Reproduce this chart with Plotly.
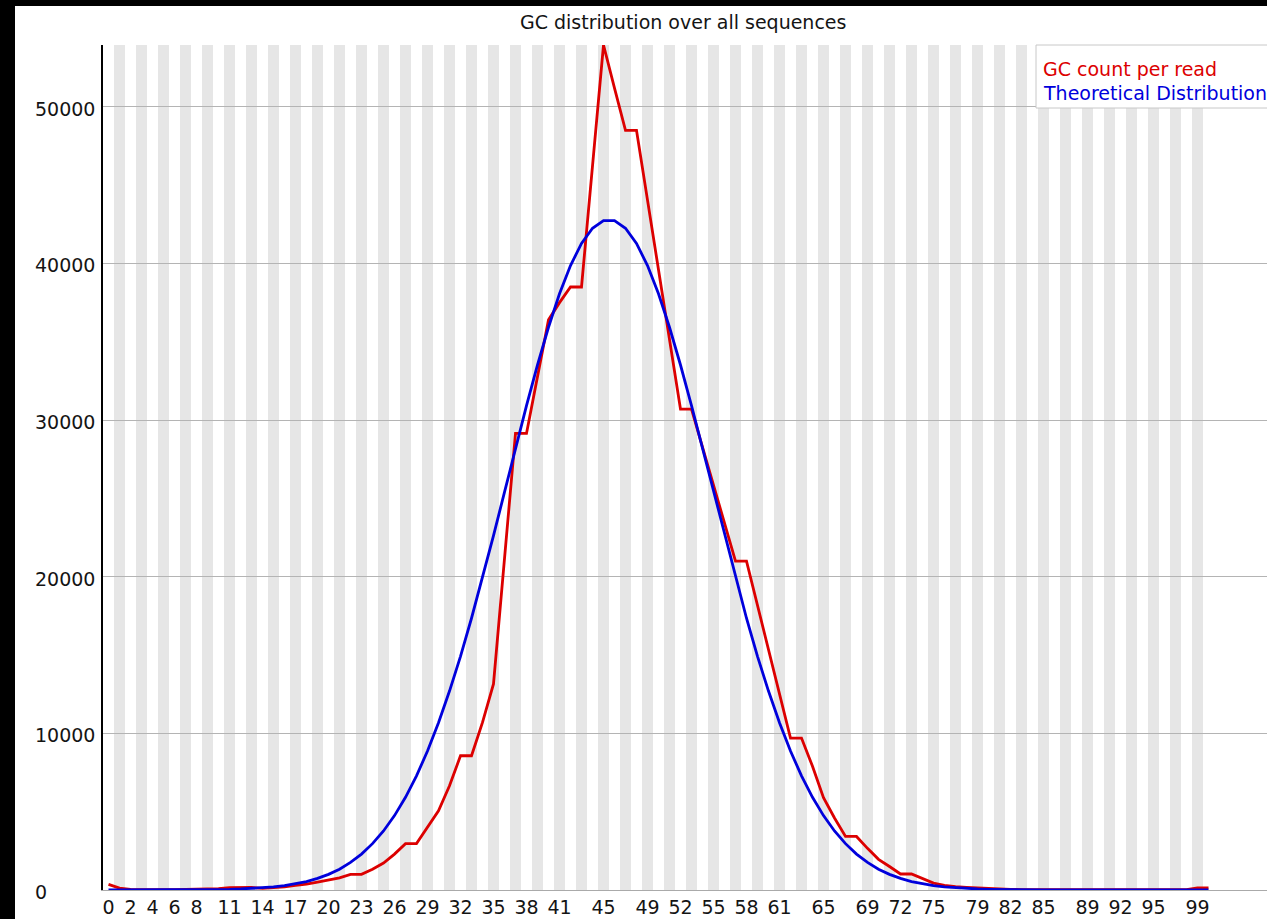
import plotly.graph_objects as go

# ---- data -------------------------------------------------------------
gc_percent = list(range(101))

gc_count_per_read = [
    360, 120, 40, 20, 15, 15, 15, 20, 25, 40,
    80, 150, 150, 160, 100, 130, 200, 290, 370, 500,
    630, 780, 1000, 1000, 1330, 1720, 2290, 2960, 2960, 3990,
    5050, 6650, 8570, 8570, 10700, 13160, 21400, 29150, 29150, 32800,
    36400, 37500, 38500, 38500, 46200, 53950, 51200, 48500, 48500, 44050,
    39600, 35150, 30700, 30700, 28300, 25900, 23450, 21000, 21000, 18180,
    15370, 12560, 9700, 9700, 7900, 5900, 4600, 3420, 3420, 2660,
    1960, 1500, 1020, 1020, 720, 440, 300, 210, 170, 130,
    100, 60, 40, 30, 25, 20, 20, 20, 20, 20,
    20, 20, 20, 20, 20, 20, 20, 20, 20, 130,
    130,
]

theoretical_distribution = [
    0, 0, 0, 1, 2, 3, 5, 8, 12, 19,
    29, 44, 65, 95, 140, 200, 280, 390, 540, 740,
    1000, 1330, 1760, 2290, 2960, 3770, 4750, 5920, 7290, 8870,
    10680, 12700, 14920, 17350, 19930, 22630, 25400, 28190, 30920, 33520,
    35930, 38070, 39870, 41280, 42250, 42740, 42740, 42250, 41280, 39870,
    38070, 35930, 33520, 30920, 28190, 25400, 22630, 19930, 17350, 14920,
    12700, 10680, 8870, 7290, 5920, 4750, 3770, 2960, 2290, 1760,
    1330, 1000, 740, 540, 390, 280, 200, 140, 95, 65,
    44, 29, 19, 12, 8, 5, 3, 2, 1, 0,
    0, 0, 0, 0, 0, 0, 0, 0, 0, 0,
    0,
]

series_names = ["GC count per read", "Theoretical Distribution"]
series_colors = ["rgb(220,0,0)", "rgb(0,0,220)"]

x_tick_labels = [0, 2, 4, 6, 8, 11, 14, 17, 20, 23, 26, 29, 32, 35, 38, 41, 45,
                 49, 52, 55, 58, 61, 65, 69, 72, 75, 79, 82, 85, 89, 92, 95, 99]
y_ticks = [0, 10000, 20000, 30000, 40000, 50000]
chart_title = "GC distribution over all sequences"

# ---- layout geometry (pixels) ----------------------------------------
W, H = 1267, 919
L, R, T, B = 103, 0, 45, 29
PLOT_W = W - L - R
PLOT_H = H - T - B
BASE_W = 11.0  # pixel width of one GC% bin

FONT = "DejaVu Sans"
FS = 19


def px_x(px):
    return (px - L) / PLOT_W


def px_y(py):
    return (H - B - py) / PLOT_H


fig = go.Figure()

for values, name, color in zip([gc_count_per_read, theoretical_distribution],
                               series_names, series_colors):
    fig.add_trace(go.Scatter(
        x=gc_percent, y=values, mode="lines", name=name,
        line=dict(color=color, width=2.8), showlegend=False,
    ))

shapes = []
# alternating faint bands behind every other bin
for i in gc_percent:
    if i % 2 == 1:
        shapes.append(dict(type="rect", xref="x", yref="paper",
                           x0=i - 0.5, x1=i + 0.5, y0=0, y1=1,
                           fillcolor="rgb(230,230,230)", line=dict(width=0),
                           layer="below"))

# black frame strips along the left and top edges
shapes.append(dict(type="rect", xref="paper", yref="paper",
                   x0=px_x(-2), x1=px_x(15), y0=px_y(H + 2), y1=px_y(-2),
                   fillcolor="black", line=dict(width=0), layer="above"))
shapes.append(dict(type="rect", xref="paper", yref="paper",
                   x0=px_x(-2), x1=px_x(W + 2), y0=px_y(6), y1=px_y(-2),
                   fillcolor="black", line=dict(width=0), layer="above"))

# legend box
shapes.append(dict(type="rect", xref="paper", yref="paper",
                   x0=px_x(1036), x1=px_x(W + 5), y0=px_y(108), y1=px_y(45),
                   fillcolor="white", line=dict(color="rgb(200,200,200)", width=1),
                   layer="above"))

annotations = []
# y tick labels, left aligned and sitting just under their grid lines
for v in y_ticks:
    annotations.append(dict(xref="paper", yref="y", x=px_x(33), y=v,
                            yshift=-2, text=f"{v}", showarrow=False,
                            xanchor="left", yanchor="middle",
                            font=dict(family=FONT, size=FS, color="rgb(20,20,20)")))

# title
annotations.append(dict(xref="paper", yref="paper", x=px_x(683), y=px_y(22),
                        text=chart_title, showarrow=False, xanchor="center",
                        yanchor="middle",
                        font=dict(family=FONT, size=FS, color="rgb(20,20,20)")))

# legend entries
for k, (name, color) in enumerate(zip(series_names, series_colors)):
    annotations.append(dict(xref="paper", yref="paper", x=px_x(1041),
                            y=px_y(69 + 24 * k), text=name, showarrow=False,
                            xanchor="left", yanchor="middle",
                            font=dict(family=FONT, size=FS, color=color)))

fig.update_layout(
    width=W, height=H, autosize=False,
    margin=dict(l=L, r=R, t=T, b=B, pad=0),
    paper_bgcolor="white", plot_bgcolor="white",
    shapes=shapes, annotations=annotations,
    xaxis=dict(
        range=[-0.5, -0.5 + PLOT_W / BASE_W],
        tickvals=x_tick_labels, ticktext=[str(v) for v in x_tick_labels],
        ticks="", showgrid=False, zeroline=False,
        showline=True, linecolor="rgb(170,170,170)", linewidth=1,
        tickfont=dict(family=FONT, size=FS, color="rgb(20,20,20)"),
    ),
    yaxis=dict(
        range=[0, max(gc_count_per_read)],
        tickvals=y_ticks, showticklabels=False, ticks="",
        showgrid=True, gridcolor="rgb(180,180,180)", gridwidth=1,
        zeroline=False, showline=True, linecolor="black", linewidth=1.5,
    ),
)

fig.write_html("out.html")
